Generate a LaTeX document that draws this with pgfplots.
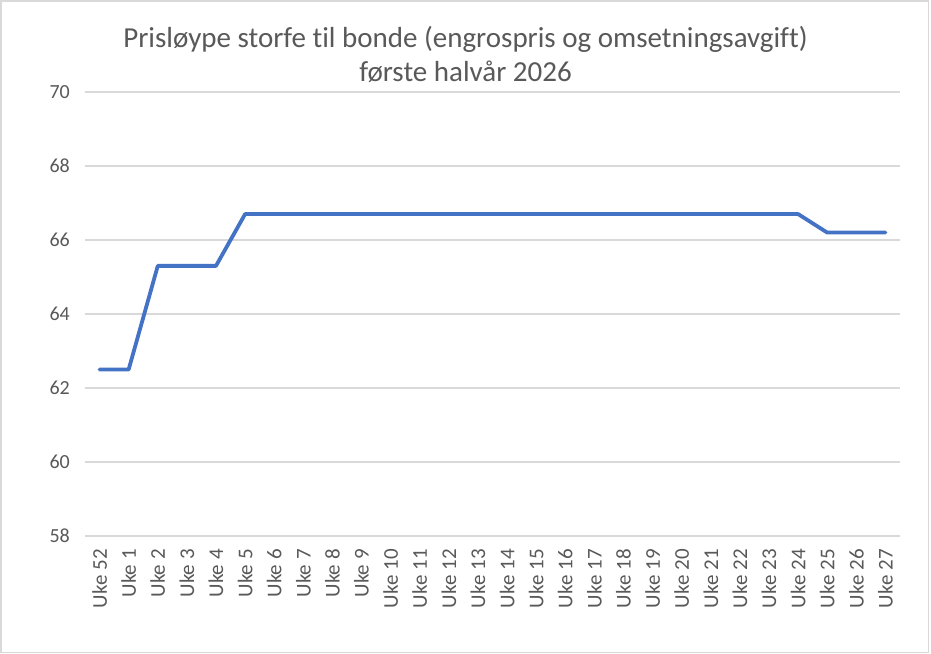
\documentclass[border=0pt]{standalone}
\usepackage{fontspec}
\setmainfont[Ligatures=CommonOff]{Carlito}
\usepackage{pgfplots}
\pgfplotsset{compat=1.18}
\definecolor{txtgray}{HTML}{595959}
\definecolor{gridgray}{HTML}{D9D9D9}
\definecolor{framegray}{HTML}{D9D9D9}
\definecolor{lineblue}{HTML}{4472C4}
\begin{document}
\begin{tikzpicture}[x=1bp,y=1bp]
\useasboundingbox (0,0) rectangle (931,654);
\fill[white] (0,0) rectangle (931,654);
\draw[framegray,line width=1.2bp] (1,1.5) rectangle (928.5,653);
\node[text=txtgray,font=\fontsize{29bp}{34bp}\selectfont,align=center,anchor=north,inner sep=0pt] at (465.5,628) {Prisløype storfe til bonde (engrospris og omsetningsavgift)\\første halvår 2026};
\begin{axis}[
  at={(85bp,118bp)}, anchor=south west,
  scale only axis, width=815bp, height=444bp,
  xmin=-0.5, xmax=27.5, ymin=58, ymax=70,
  ytick={58,60,...,70},
  xtick={0,...,27},
  xticklabels={Uke 52,Uke 1,Uke 2,Uke 3,Uke 4,Uke 5,Uke 6,Uke 7,Uke 8,Uke 9,Uke 10,Uke 11,Uke 12,Uke 13,Uke 14,Uke 15,Uke 16,Uke 17,Uke 18,Uke 19,Uke 20,Uke 21,Uke 22,Uke 23,Uke 24,Uke 25,Uke 26,Uke 27},
  x tick label style={rotate=90, anchor=east, font=\fontsize{21bp}{23bp}\selectfont, text=txtgray, inner sep=0pt},
  y tick label style={anchor=east, font=\fontsize{20bp}{22bp}\selectfont, text=txtgray, inner sep=0pt},
  xticklabel shift=13bp, yticklabel shift=15bp,
  /pgf/number format/assume math mode=true,
  major tick length=0pt,
  axis line style={draw=none},
  ymajorgrids, major grid style={gridgray, line width=1.2bp},
  clip=false,
]
\addplot[lineblue, line width=3.8bp, line join=round, line cap=round, mark=none] coordinates {
(0,62.5) (1,62.5) (2,65.3) (3,65.3) (4,65.3) (5,66.7) (6,66.7) (7,66.7) (8,66.7) (9,66.7) (10,66.7) (11,66.7) (12,66.7) (13,66.7) (14,66.7) (15,66.7) (16,66.7) (17,66.7) (18,66.7) (19,66.7) (20,66.7) (21,66.7) (22,66.7) (23,66.7) (24,66.7) (25,66.2) (26,66.2) (27,66.2)
};
\end{axis}
\end{tikzpicture}
\end{document}
